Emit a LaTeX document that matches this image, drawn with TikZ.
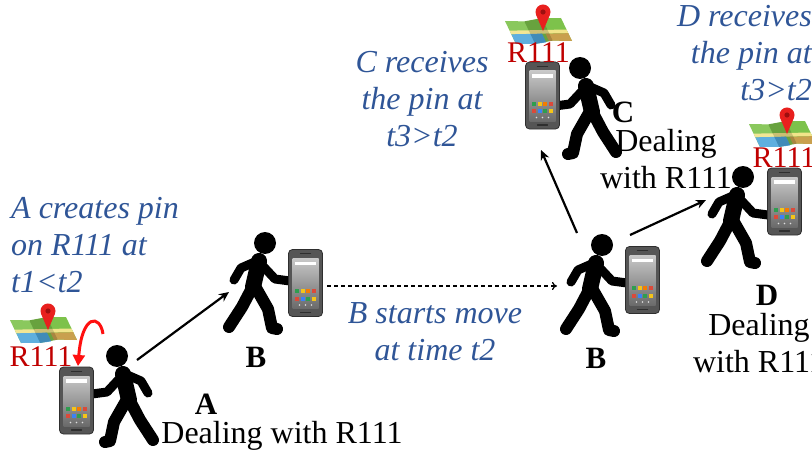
\documentclass[tikz,border=0pt]{standalone}
\usepackage{fontspec}
\setmainfont{Liberation Serif}
\usetikzlibrary{arrows.meta}

\definecolor{noteblue}{HTML}{2F5597}
\definecolor{labelred}{HTML}{C00000}
\definecolor{pinred}{HTML}{E8201E}
\definecolor{pindark}{HTML}{9E0F0F}
\definecolor{arrowred}{HTML}{FF1010}
\definecolor{mapgreen}{HTML}{7DC24B}
\definecolor{mapyellow}{HTML}{F1E48A}
\definecolor{mapblue}{HTML}{4DA6DC}
\definecolor{maptan}{HTML}{C9A04E}
\definecolor{phonebody}{HTML}{555555}
\definecolor{phoneedge}{HTML}{2E2E2E}
\definecolor{screentop}{HTML}{C8C8C8}
\definecolor{screenbot}{HTML}{6A6A6A}
\definecolor{appgreen}{HTML}{2E9E4F}
\definecolor{appyellow}{HTML}{F5C518}
\definecolor{apporange}{HTML}{F57C00}
\definecolor{appred}{HTML}{DB4A3A}
\definecolor{appblue}{HTML}{3B82F6}

\tikzset{
  limb/.style={line width=9pt, line cap=round, line join=round},
  legpart/.style={line width=12pt, line cap=round, line join=round},
  % walking person, origin at the centre of the head, phone hand to the right
  walker/.pic={
    \fill (0,0) circle[radius=11];
    \draw[line width=16pt, line cap=round] (-6,18) -- (-12,44);
    \draw[limb] (-8,18) -- (-24,25) -- (-31,37);
    \draw[limb] (-4,21) -- (10,36) -- (25,38);
    \draw[legpart] (-13,45) -- (-23,64) -- (-36,84);
    \draw[legpart] (-9,45) -- (3,66) -- (7,85) -- (12,86);
  },
  % smartphone, origin at its centre
  phone/.pic={
    \filldraw[fill=phonebody, draw=phoneedge, line width=0.8pt, rounded corners=4pt]
      (-17,-33.5) rectangle (17,33.5);
    \shade[top color=screentop, bottom color=screenbot] (-13,-24.5) rectangle (13,25.5);
    \draw[phoneedge, line width=1.3pt, line cap=round] (-5,-29.3) -- (5,-29.3);
    \draw[phoneedge, line width=1.3pt, line cap=round] (-5,29.5) -- (5,29.5);
    \fill[white] (-10.5,-21.3) rectangle (10.5,-17.8);
    \foreach \x/\c in {-8.4/appgreen,-2.8/appyellow,2.8/apporange,8.4/appred}
      \fill[\c] (\x-2.1,6.2) rectangle (\x+2.1,10.4);
    \foreach \x/\c in {-8.4/appred,-2.8/appblue,2.8/appgreen,8.4/appyellow}
      \fill[\c] (\x-2.1,13.6) rectangle (\x+2.1,17.8);
    \foreach \x in {-6,0,6}
      \fill[white!75!gray] (\x,22) circle[radius=0.8];
  },
  % folded map with a location pin, origin at the tip of the pin
  pinmap/.pic={
    \begin{scope}[shift={(-38,-10)}, x={(56pt,3pt)}, y={(11pt,-23pt)}]
      \fill[mapgreen] (0,0) -- (1/3,0.06) -- (2/3,-0.04) -- (1,0) -- (1,1)
        -- (2/3,0.94) -- (1/3,1.04) -- (0,1) -- cycle;
      \fill[mapyellow] (0,0.42) -- (1,0.5) -- (1,0.66) -- (0,0.58) -- cycle;
      \fill[mapblue] (0,0.58) -- (0.54,0.62) -- (0.54,1.0) -- (1/3,1.04) -- (0,1) -- cycle;
      \fill[maptan] (0.6,0.63) -- (1,0.66) -- (1,1) -- (2/3,0.94) -- (0.6,0.95) -- cycle;
      \fill[black, opacity=0.16] (1/3,0.06) -- (2/3,-0.04) -- (2/3,0.94) -- (1/3,1.04) -- cycle;
      \fill[white, opacity=0.10] (0,0) -- (1/3,0.06) -- (1/3,1.04) -- (0,1) -- cycle;
    \end{scope}
    \fill[pinred] (0,0) -- (-6.89,-16.05)
      arc[start angle=156.8, end angle=383.2, radius=7.5] -- cycle;
    \fill[pindark] (0,-19) circle[radius=2.6];
  },
  note/.style={font=\fontsize{32}{37}\selectfont\itshape, text=noteblue, inner sep=0pt},
  plain/.style={font=\fontsize{32}{37}\selectfont, inner sep=0pt},
  who/.style={font=\fontsize{31}{31}\selectfont\bfseries, inner sep=0pt},
  roomlabel/.style={font=\fontsize{30}{30}\selectfont, text=labelred, inner sep=0pt},
  move/.style={line width=2.2pt, -{Stealth[length=10pt,width=9pt]}},
  later/.style={line width=1.2pt, dash pattern=on 4pt off 3pt, -{To[length=5pt,width=8pt]}},
  share/.style={draw=arrowred, line width=3pt, -{Triangle[length=11pt,width=12pt]}},
}

\begin{document}
\begin{tikzpicture}[x=1pt, y=-1pt]
  \useasboundingbox (0,0) rectangle (812,452);
  \fill[white] (0,0) rectangle (812,452);
  \clip (0,0) rectangle (812,452);

  % heads of the walkers
  \coordinate (hA)  at (117,356);
  \coordinate (hB1) at (265,243);
  \coordinate (hB2) at (602,245);
  \coordinate (hC)  at (580,68);
  \coordinate (hD)  at (743,177);

  % phones
  \coordinate (phA)  at (76.5,400.5);
  \coordinate (phB1) at (305.5,283);
  \coordinate (phB2) at (642.5,280);
  \coordinate (phC)  at (542.5,95.5);
  \coordinate (phD)  at (784.5,201.5);

  % pins on the room map
  \coordinate (mA) at (48,330);
  \coordinate (mC) at (543,31);
  \coordinate (mD) at (787,134);

  % connector ends
  \coordinate (A-out)    at (137,360);
  \coordinate (B1-in)    at (229,292);
  \coordinate (B1-out)   at (327,286);
  \coordinate (B2-in)    at (557,286);
  \coordinate (B2-up)    at (577,233);
  \coordinate (C-in)     at (541,150);
  \coordinate (B2-right) at (630,235);
  \coordinate (D-in)     at (706,200);
  \coordinate (A-pin)    at (103,334);
  \coordinate (A-drop)   at (78,366);

  \pic at (mA) {pinmap};
  \pic at (mC) {pinmap};
  \pic at (mD) {pinmap};

  \pic[xscale=-1] at (hA) {walker};
  \pic at (hB1) {walker};
  \pic at (hB2) {walker};
  \pic[xscale=-1] at (hC) {walker};
  \pic at (hD) {walker};

  \pic at (phA)  {phone};
  \pic at (phB1) {phone};
  \pic at (phB2) {phone};
  \pic at (phC)  {phone};
  \pic at (phD)  {phone};

  \node[roomlabel, anchor=base] (rA) at (41,366) {R111};
  \node[roomlabel, anchor=base] (rC) at (538.5,62.5) {R111};
  \node[roomlabel, anchor=base] (rD) at (784,167) {R111};

  \draw[move] (A-out) -- (B1-in);
  \draw[later] (B1-out) -- (B2-in);
  \draw[move] (B2-up) -- (C-in);
  \draw[move] (B2-right) -- (D-in);
  \draw[share] (A-pin) .. controls +(-3,-20) and +(4,-52) .. (A-drop);

  % multi-line texts are placed by the baseline of their last line
  \node[note, align=left, anchor=base west] (nA) at (11,292) {A creates pin\\on R111 at\\t1<t2};
  \node[note, align=center, anchor=base] (nC) at (422,146.5) {C receives\\the pin at\\t3>t2};
  \node[note, align=right, anchor=base east] (nD) at (812,100.5) {D receives\\the pin at\\t3>t2};
  \node[note, align=center, anchor=base] (nB) at (435,360) {B starts move\\at time t2};

  \node[who, anchor=base] (lA) at (206,414) {A};
  \node[plain, anchor=base] (dA) at (282,443) {Dealing with R111};
  \node[who, anchor=base] (lB1) at (256,367) {B};
  \node[who, anchor=base] (lB2) at (596,368) {B};
  \node[who, anchor=base] (lC) at (623,122) {C};
  \node[plain, align=center, anchor=base] (dC) at (666,188) {Dealing\\with R111};
  \node[who, anchor=base] (lD) at (767,305) {D};
  \node[plain, align=center, anchor=base] (dD) at (759,372) {Dealing\\with R111};
\end{tikzpicture}
\end{document}
